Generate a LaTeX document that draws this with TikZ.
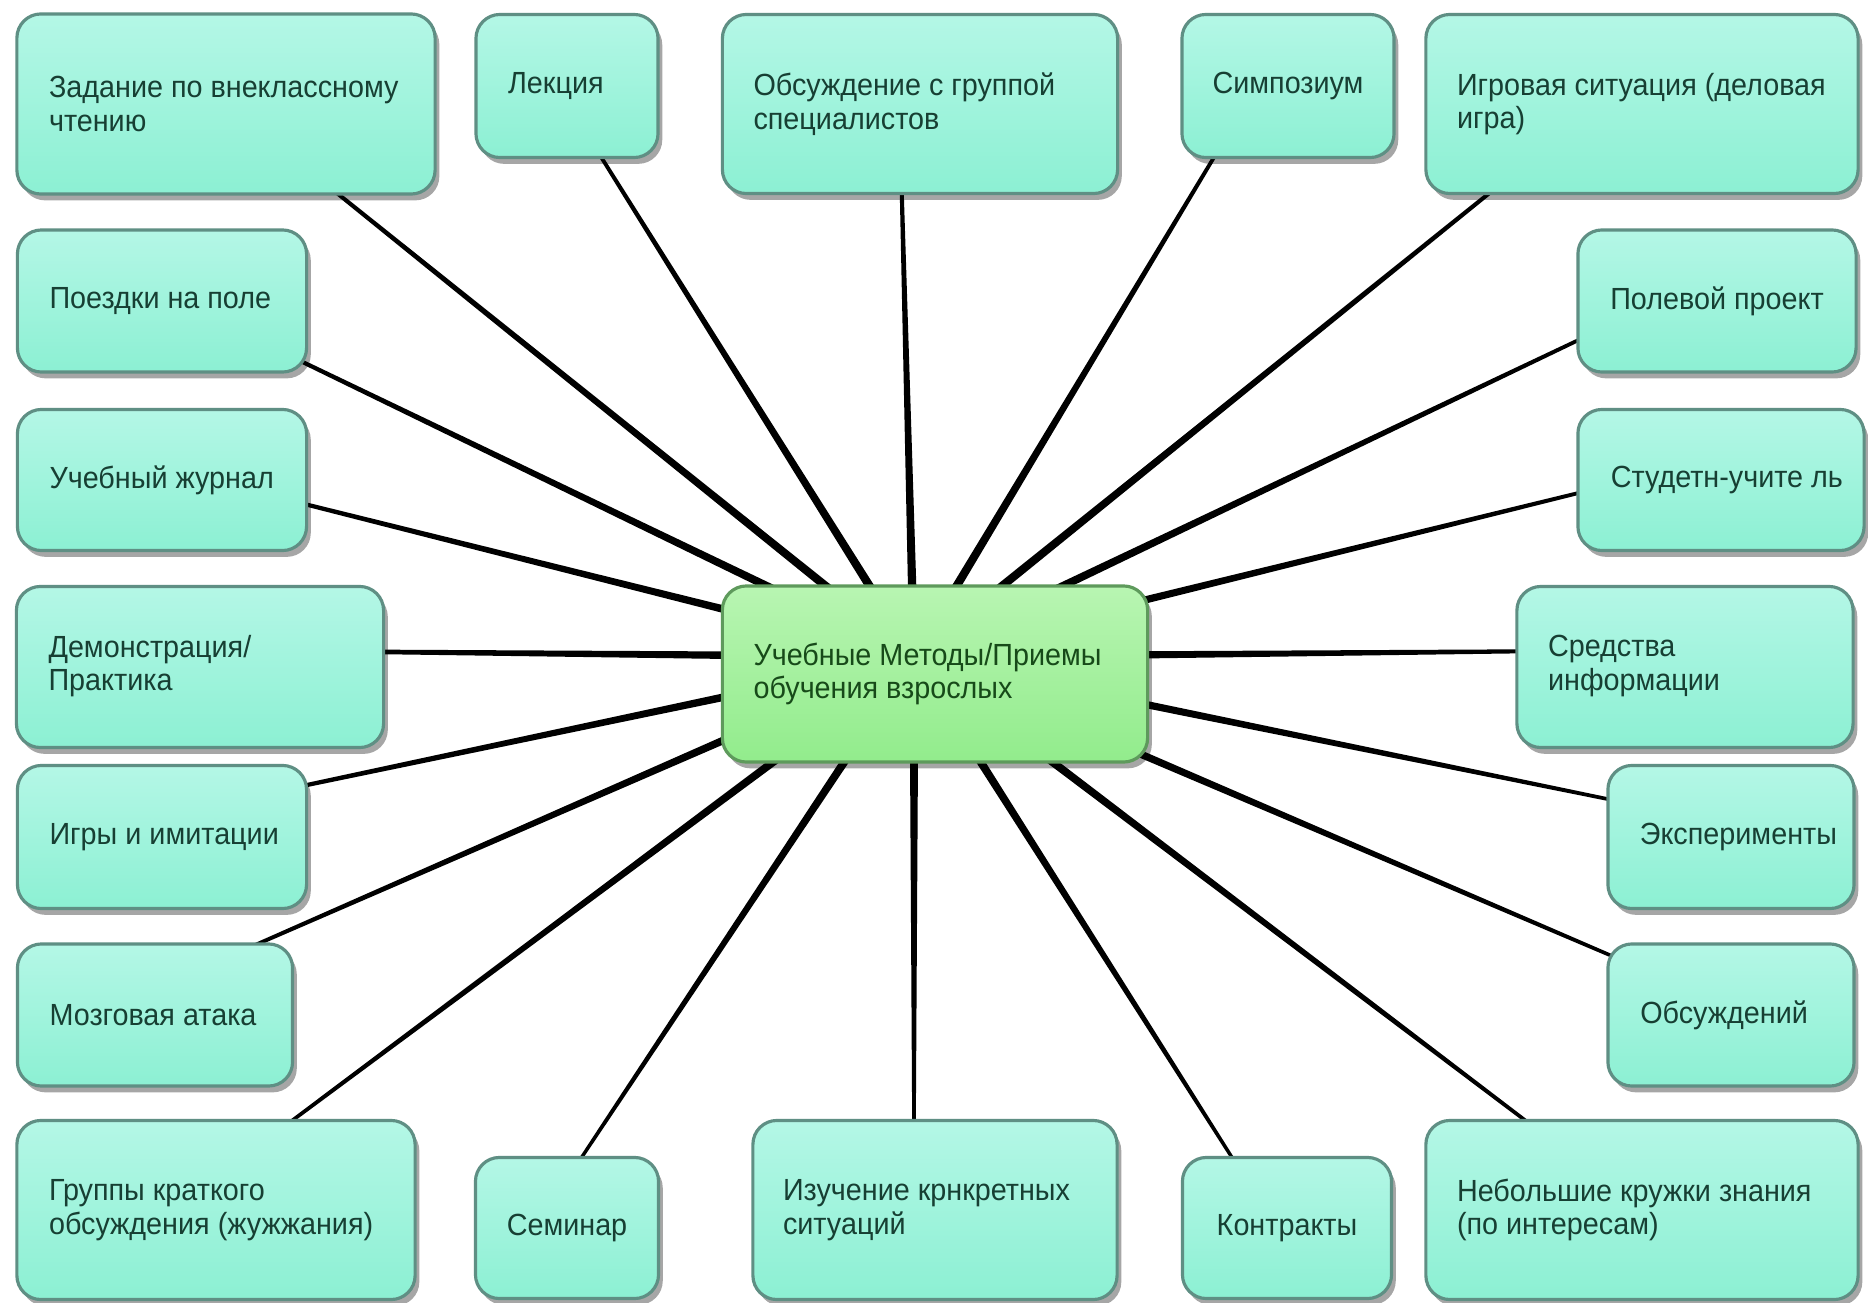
\documentclass[tikz,border=0pt]{standalone}
\usepackage{fontspec}
\setmainfont{Liberation Sans}[FakeStretch=0.94]
\usetikzlibrary{calc,shadows}
\pgfdeclarelayer{background}
\pgfsetlayers{background,main}
\definecolor{boxtop}{HTML}{B4F7E6}
\definecolor{boxbot}{HTML}{8CF0D3}
\definecolor{boxline}{HTML}{5F8F84}
\definecolor{boxtext}{HTML}{173F33}
\definecolor{ctop}{HTML}{B8F5B2}
\definecolor{cbot}{HTML}{92EC8C}
\definecolor{cline}{HTML}{5E9A5C}
\definecolor{ctext}{HTML}{174A19}
\tikzset{
  bx/.style={rectangle, rounded corners=0.24cm, draw=boxline, line width=0.9pt,
    top color=boxtop, bottom color=boxbot, text=boxtext,
    inner xsep=0pt, inner ysep=0pt, align=center,
    font=\fontsize{8.7pt}{9.6pt}\selectfont,
    drop shadow={shadow xshift=1.2pt, shadow yshift=-1.8pt, fill=black, opacity=0.35}},
  cbx/.style={bx, draw=cline, top color=ctop, bottom color=cbot, text=ctext},
  lbl/.style={inner sep=0pt, align=left, text=boxtext, font=\fontsize{8.7pt}{9.6pt}\selectfont},
}
\newcommand{\taper}[2]{%
  \fill[black] ($(#1)!0.4pt!90:(#2)$) -- ($(#1)!0.4pt!-90:(#2)$)
   -- ($(#2)!1.3pt!90:(#1)$) -- ($(#2)!1.3pt!-90:(#1)$) -- cycle;}
\begin{document}
\begin{tikzpicture}[x=0.01cm,y=-0.01cm]
\useasboundingbox (0,0) rectangle (1868,1303);
% centre
\node[cbx, minimum width=4.25cm, minimum height=1.76cm] (c) at (935,674) {};
\node[lbl, text=ctext, anchor=west] (ct) at ([xshift=0.32cm]c.west) {Учебные Методы/Приемы\\обучения взрослых};
% top row
\node[bx, minimum width=4.18cm, minimum height=1.80cm] (n1) at (226,104) {};
\node[lbl, anchor=west] (t1) at ([xshift=0.33cm]n1.west) {Задание по внеклассному\\чтению};
\node[bx, minimum width=1.82cm, minimum height=1.43cm] (n2) at (567,86) {};
\node[lbl, anchor=west] (t2) at ([xshift=0.33cm]n2.west) {Лекция};
\node[bx, minimum width=3.95cm, minimum height=1.79cm] (n3) at (920,104) {};
\node[lbl, anchor=west] (t3) at ([xshift=0.32cm]n3.west) {Обсуждение с группой\\специалистов};
\node[bx, minimum width=2.12cm, minimum height=1.43cm] (n4) at (1288,86) {Симпозиум};
\node[bx, minimum width=4.32cm, minimum height=1.79cm] (n5) at (1642,104) {};
\node[lbl, anchor=west] (t5) at ([xshift=0.32cm]n5.west) {Игровая ситуация (деловая\\игра)};
% left column
\node[bx, minimum width=2.89cm, minimum height=1.42cm] (n6) at (162,301) {};
\node[lbl, anchor=west] (t6) at ([xshift=0.33cm]n6.west) {Поездки на поле};
\node[bx, minimum width=2.89cm, minimum height=1.41cm] (n7) at (162,480) {};
\node[lbl, anchor=west] (t7) at ([xshift=0.33cm]n7.west) {Учебный журнал};
\node[bx, minimum width=3.67cm, minimum height=1.61cm] (n8) at (200,667) {};
\node[lbl, anchor=west] (t8) at ([xshift=0.33cm, yshift=0.01cm]n8.west) {Демонстрация/\\Практика};
\node[bx, minimum width=2.89cm, minimum height=1.43cm] (n9) at (162,837) {};
\node[lbl, anchor=west] (t9) at ([xshift=0.33cm]n9.west) {Игры и имитации};
\node[bx, minimum width=2.75cm, minimum height=1.42cm] (n10) at (155,1015) {};
\node[lbl, anchor=west] (t10) at ([xshift=0.33cm]n10.west) {Мозговая атака};
\node[bx, minimum width=3.98cm, minimum height=1.79cm] (n11) at (216,1210) {};
\node[lbl, anchor=west] (t11) at ([xshift=0.33cm]n11.west) {Группы краткого\\обсуждения (жужжания)};
% bottom row
\node[bx, minimum width=1.83cm, minimum height=1.41cm] (n12) at (567,1228) {Семинар};
\node[bx, minimum width=3.64cm, minimum height=1.79cm] (n13) at (935,1210) {};
\node[lbl, anchor=west] (t13) at ([xshift=0.31cm]n13.west) {Изучение крнкретных\\ситуаций};
\node[bx, minimum width=2.09cm, minimum height=1.41cm] (n14) at (1287,1228) {Контракты};
\node[bx, minimum width=4.32cm, minimum height=1.79cm] (n15) at (1642,1210) {};
\node[lbl, anchor=west] (t15) at ([xshift=0.32cm]n15.west) {Небольшие кружки знания\\(по интересам)};
% right column
\node[bx, minimum width=2.78cm, minimum height=1.42cm] (n16) at (1717,301) {Полевой проект};
\node[bx, minimum width=2.86cm, minimum height=1.41cm] (n17) at (1721,480) {};
\node[lbl, anchor=east] (t17) at ([xshift=-0.22cm]n17.east) {Студетн-учите ль};
\node[bx, minimum width=3.36cm, minimum height=1.61cm] (n18) at (1685,667) {};
\node[lbl, anchor=west] (t18) at ([xshift=0.32cm, yshift=0.01cm]n18.west) {Средства\\информации};
\node[bx, minimum width=2.46cm, minimum height=1.43cm] (n19) at (1731,837) {};
\node[lbl, anchor=east] (t19) at ([xshift=-0.18cm]n19.east) {Эксперименты};
\node[bx, minimum width=2.46cm, minimum height=1.42cm] (n20) at (1731,1015) {};
\node[lbl, anchor=east] (t20) at ([xshift=-0.47cm]n20.east) {Обсуждений};
% connectors (hub points sit slightly up-left of the box centres)
\coordinate (pc) at ($(c.center)+(-21,-17)$);
\begin{pgfonlayer}{background}
\fill[white] (0,0) rectangle (1868,1303);
\foreach \n in {n1,n2,n3,n4,n5,n6,n7,n8,n9,n10,n11,n12,n13,n14,n15,n16,n17,n18,n19,n20}
  {\coordinate (p\n) at ($(\n.center)+(-21,-17)$);
   \taper{p\n}{pc}}
\end{pgfonlayer}
\end{tikzpicture}
\end{document}
